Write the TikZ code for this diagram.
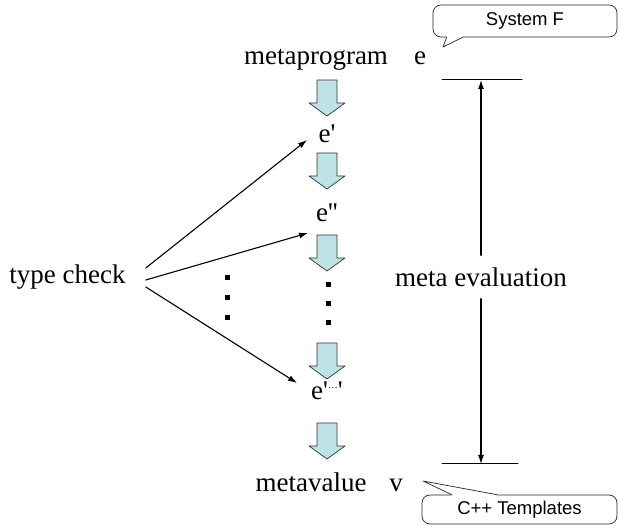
\documentclass[tikz,border=0pt]{standalone}
\usepackage{fontspec}
\newfontfamily\labelfont{Liberation Serif}
\newfontfamily\notefont{Liberation Sans}
\usetikzlibrary{arrows.meta,calc}

\definecolor{stepblue}{RGB}{190,227,231}

\begin{document}
\begin{tikzpicture}[x=1pt, y=1pt, >={Latex[length=9pt,width=6pt]}, line cap=round, line join=round,
		lbl/.style={font=\labelfont\fontsize{27}{32}\selectfont, inner sep=0pt, anchor=base},
		notebox/.style={draw=black!85, line width=0.7pt, rounded corners=8pt, fill=white,
			font=\notefont\fontsize{18.5}{22}\selectfont, inner sep=0pt},
		conn/.style={line width=1.1pt},
		stepfill/.style={fill=stepblue, draw=black!80, line width=0.7pt},
		stepdown/.pic={\draw[stepfill] (-10,0) -- (10,0) -- (10,-23) -- (18,-23) -- (0,-36) -- (-18,-23) -- (-10,-23) -- cycle;}]
	
	\useasboundingbox (0,0) rectangle (619,526);
	
	% the chain of terms
	\node[lbl] (mprog) at (316,461) {metaprogram};
	\node[lbl] (termE) at (420,461) {e};
	\node[lbl] (e1) at (327,383) {e'};
	\node[lbl] (e2) at (327,304) {e''};
	\node[lbl] (e3) at (327,126) {e'\raisebox{11pt}{\fontsize{10}{10}\selectfont …}'};
	\node[lbl] (mval) at (311,34) {metavalue};
	\node[lbl] (valV) at (396,34) {v};
	
	% one step arrow between each two terms
	\foreach \ytop in {446,373,291,183,103}
		\pic at (327,\ytop) {stepdown};
	
	% dots for the steps left out
	\foreach \yy in {241,222,203}
		\fill ({328-2.5},{\yy-2.5}) rectangle ++(5,5);
	\foreach \yy in {248,228,208}
		\fill ({227-2.5},{\yy-2.5}) rectangle ++(5,5);
	
	% type check at every step
	\node[lbl] (tc) at (67.5,242) {type check};
	\draw[conn,->] ([shift={(20,16)}]tc.base east) -- ([shift={(-20,3)}]e1.base);
	\draw[conn,->] ([shift={(20,4)}]tc.base east) -- ([shift={(-19,-11)}]e2.base);
	\draw[conn,->] ([shift={(20,-3)}]tc.base east) -- ([shift={(-30,17)}]e3.base);
	
	% meta evaluation span
	\coordinate (barTL) at (442,446);
	\coordinate (barTR) at (522,446);
	\coordinate (barBL) at (442,62);
	\coordinate (barBR) at (518,62);
	\draw[line width=1pt] (barTL) -- (barTR);
	\draw[line width=1pt] (barBL) -- (barBR);
	\node[lbl, anchor=center, inner ysep=12pt] (meval) at (481,249) {meta evaluation};
	\draw[conn,->] (meval) -- (meval |- barTL);
	\draw[conn,->] (meval) -- (meval |- barBL);
	
	% System F note
	\node[notebox, minimum width=184, minimum height=32] (sysf) at (525,505) {System F};
	\coordinate (sftip) at (443,479);
	\fill[white] ([xshift=14]sysf.south west) -- (sftip) -- ([xshift=30]sysf.south west)
		-- ([shift={(30,2)}]sysf.south west) -- ([shift={(14,2)}]sysf.south west) -- cycle;
	\draw[black!85, line width=0.7pt] ([xshift=14]sysf.south west) -- (sftip) -- ([xshift=30]sysf.south west);
	
	% C++ Templates note
	\node[notebox, minimum width=195, minimum height=29] (cpp) at (519.5,16.5) {C++ Templates};
	\coordinate (cptip) at (423,45);
	\fill[white] ([xshift=30]cpp.north west) -- (cptip) -- ([xshift=75]cpp.north west)
		-- ([shift={(75,-2)}]cpp.north west) -- ([shift={(30,-2)}]cpp.north west) -- cycle;
	\draw[black!85, line width=0.7pt] ([xshift=30]cpp.north west) -- (cptip) -- ([xshift=75]cpp.north west);
	
\end{tikzpicture}
\end{document}
